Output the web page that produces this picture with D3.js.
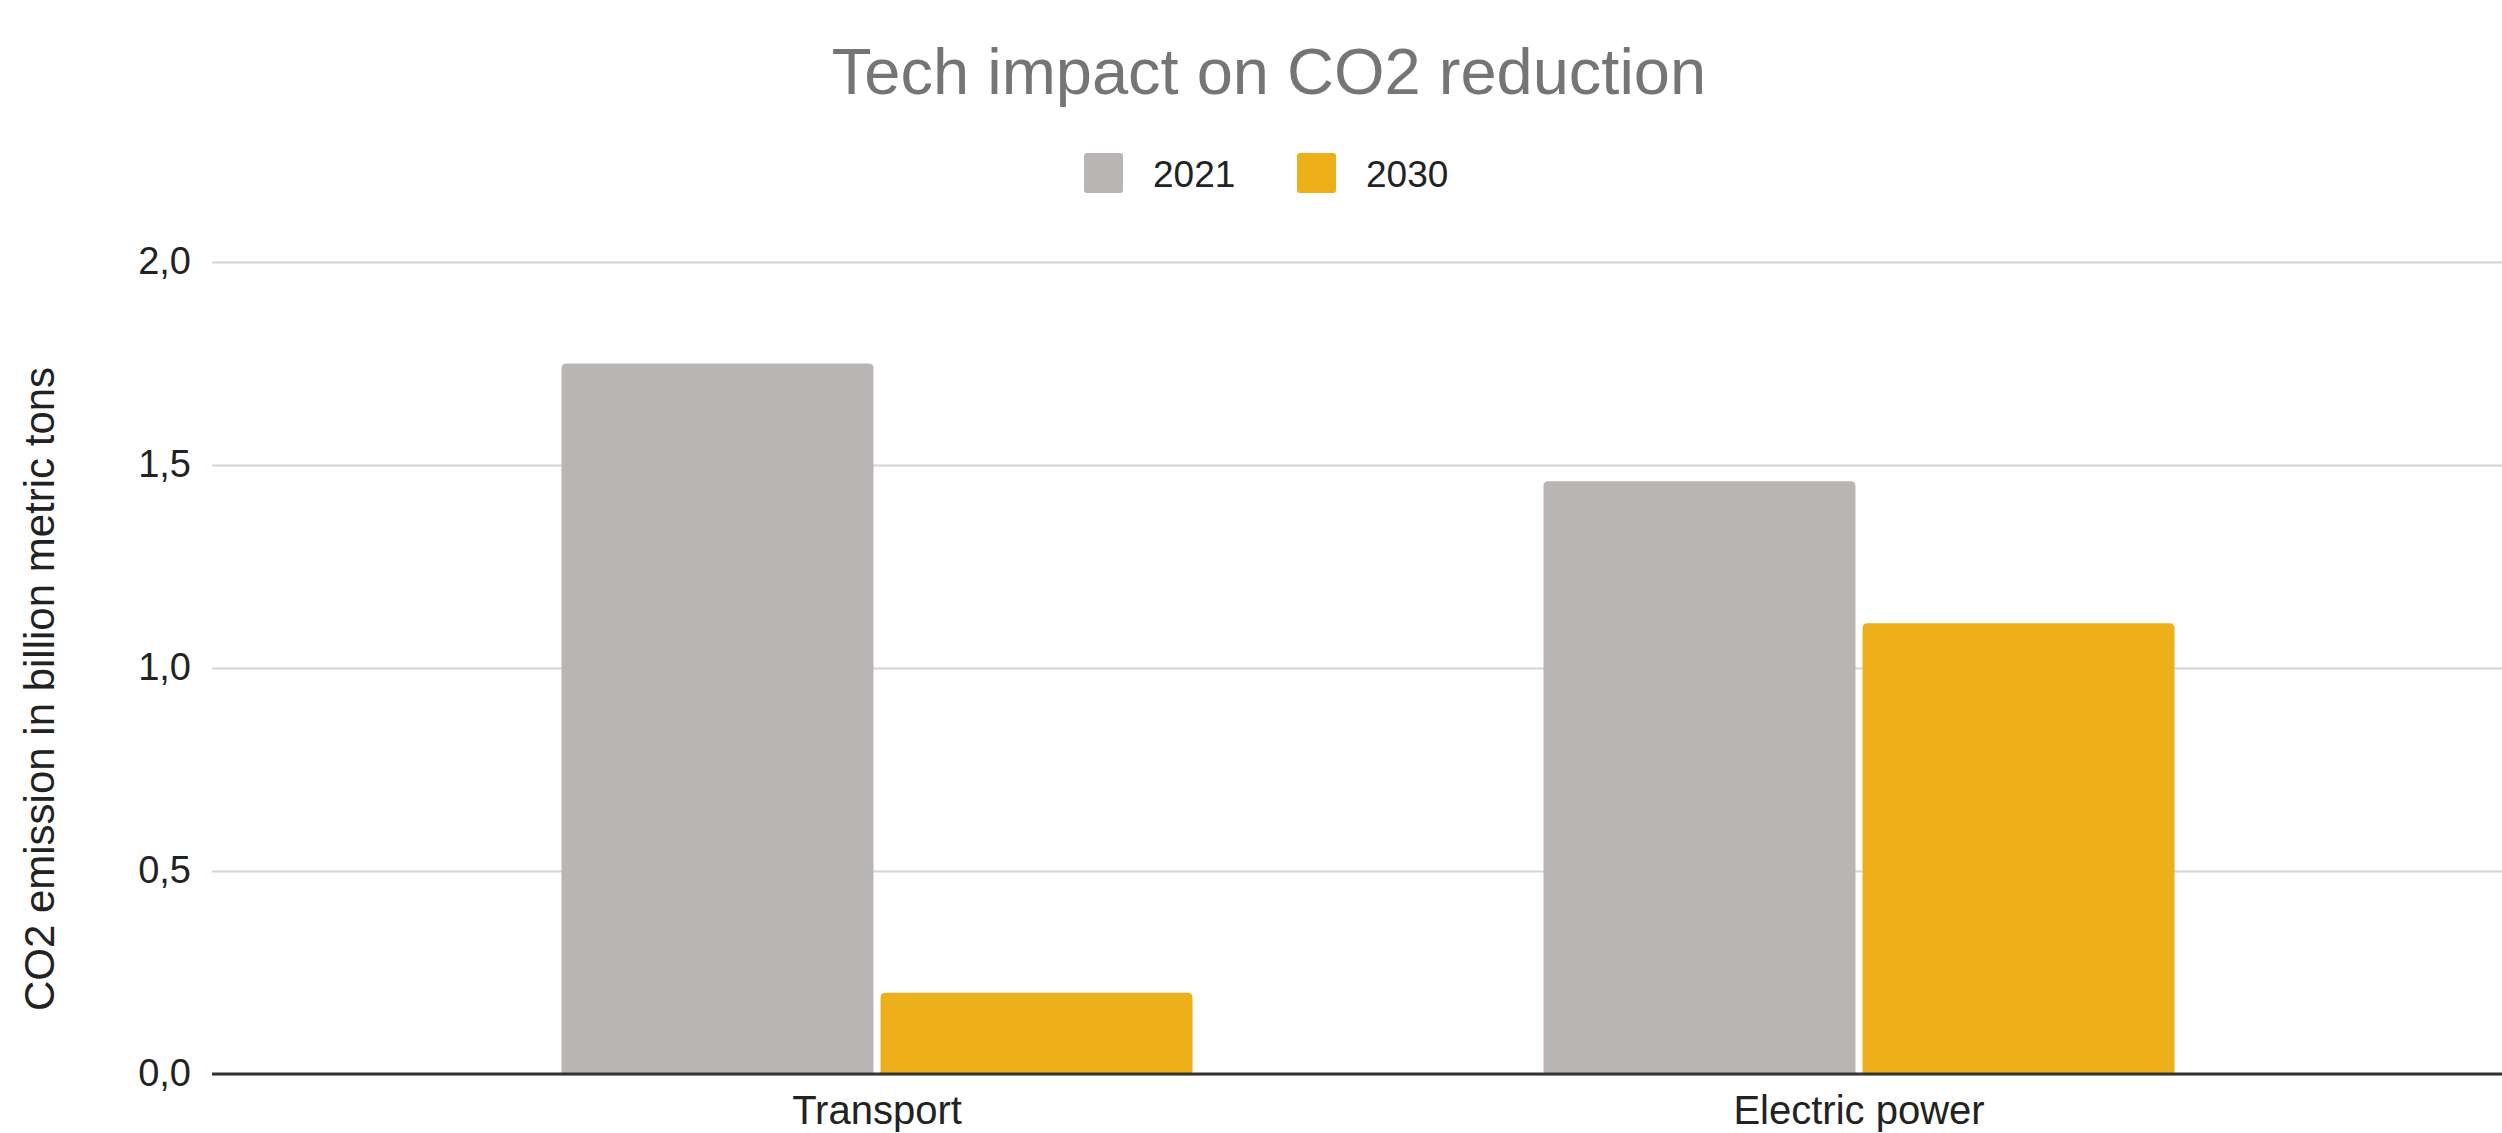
<!DOCTYPE html>
<html>
<head>
<meta charset="utf-8">
<script src="https://cdn.jsdelivr.net/npm/d3@7"></script>
<style>
  html, body { margin: 0; padding: 0; background: #ffffff; }
  svg { display: block; font-family: "Liberation Sans", Arial, sans-serif; }
</style>
</head>
<body>
<svg id="chart" width="2502" height="1133"></svg>
<script>
// ---- data ----
const categories = ["Transport", "Electric power"];
const seriesNames = ["2021", "2030"];
const values2021 = [1.75, 1.46];
const values2030 = [0.20, 1.11];
const yTicks = [0, 0.5, 1.0, 1.5, 2.0];
const titleText = "Tech impact on CO2 reduction";
const yAxisTitle = "CO2 emission in billion metric tons";
const colors = ["#b9b5b4", "#eeb01a"];

// ---- layout ----
const W = 2502, H = 1133;
const plotLeft = 212, plotRight = 2524, plotTop = 262, plotBottom = 1074;

const svg = d3.select("#chart");

const locale = d3.formatLocale({decimal: ",", thousands: ".", grouping: [3], currency: ["", "€"]});
const fmt = locale.format(".1f");

const y = d3.scaleLinear().domain([0, 2]).range([plotBottom, plotTop]);
const x0 = d3.scaleBand().domain(categories).range([plotLeft, plotRight])
  .paddingInner(0.3574).paddingOuter(0.3559);
const x1 = d3.scaleBand().domain(seriesNames).range([0, x0.bandwidth()])
  .paddingInner(0.022).paddingOuter(0);

// gridlines + y labels
const yAxis = d3.axisLeft(y).tickValues(yTicks).tickFormat(fmt)
  .tickSizeInner(-(W - plotLeft)).tickSizeOuter(0).tickPadding(21);
const gy = svg.append("g").attr("transform", `translate(${plotLeft},0)`).call(yAxis);
gy.select(".domain").remove();
gy.selectAll(".tick line").attr("stroke", "#d4d4d4").attr("stroke-width", 2);
gy.selectAll(".tick text").attr("font-size", 38).attr("fill", "#222222")
  .attr("font-family", "'Liberation Sans', Arial, sans-serif").attr("dy", "0.3em");

// bars
const rows = categories.map((c, i) => ({cat: c, vals: [values2021[i], values2030[i]]}));
function topRounded(xp, yp, w, h, r) {
  r = Math.min(r, w / 2, h);
  return `M${xp},${yp + h}V${yp + r}Q${xp},${yp} ${xp + r},${yp}H${xp + w - r}Q${xp + w},${yp} ${xp + w},${yp + r}V${yp + h}Z`;
}
const groups = svg.append("g").selectAll("g").data(rows).join("g")
  .attr("transform", d => `translate(${x0(d.cat)},0)`);
groups.selectAll("path").data(d => d.vals.map((v, k) => ({s: seriesNames[k], v, k})))
  .join("path")
  .attr("d", d => topRounded(x1(d.s), y(d.v), x1.bandwidth(), y(0) - y(d.v), 5))
  .attr("fill", d => colors[d.k]);

// baseline
svg.append("line").attr("x1", plotLeft).attr("x2", W)
  .attr("y1", y(0)).attr("y2", y(0)).attr("stroke", "#333333").attr("stroke-width", 3);

// x axis labels
const xAxis = d3.axisBottom(x0).tickSize(0).tickPadding(22);
const gx = svg.append("g").attr("transform", `translate(0,${plotBottom})`).call(xAxis);
gx.select(".domain").remove();
gx.selectAll(".tick text").attr("font-size", 40).attr("fill", "#222222")
  .attr("font-family", "'Liberation Sans', Arial, sans-serif");

// title
svg.append("text").attr("x", 1269).attr("y", 94).attr("text-anchor", "middle")
  .attr("font-size", 65).attr("fill", "#757575").text(titleText);

// legend
const legendItems = [{name: seriesNames[0], color: colors[0], x: 1084}, {name: seriesNames[1], color: colors[1], x: 1297}];
const lg = svg.append("g").selectAll("g").data(legendItems).join("g")
  .attr("transform", d => `translate(${d.x},153)`);
lg.append("rect").attr("width", 39).attr("height", 40).attr("rx", 3).attr("fill", d => d.color);
lg.append("text").attr("x", 69).attr("y", 34).attr("font-size", 37).attr("fill", "#222222").text(d => d.name);

// y axis title
svg.append("text").attr("transform", "translate(54,689) rotate(-90)")
  .attr("text-anchor", "middle").attr("font-size", 42).attr("fill", "#222222").text(yAxisTitle);
</script>
</body>
</html>
